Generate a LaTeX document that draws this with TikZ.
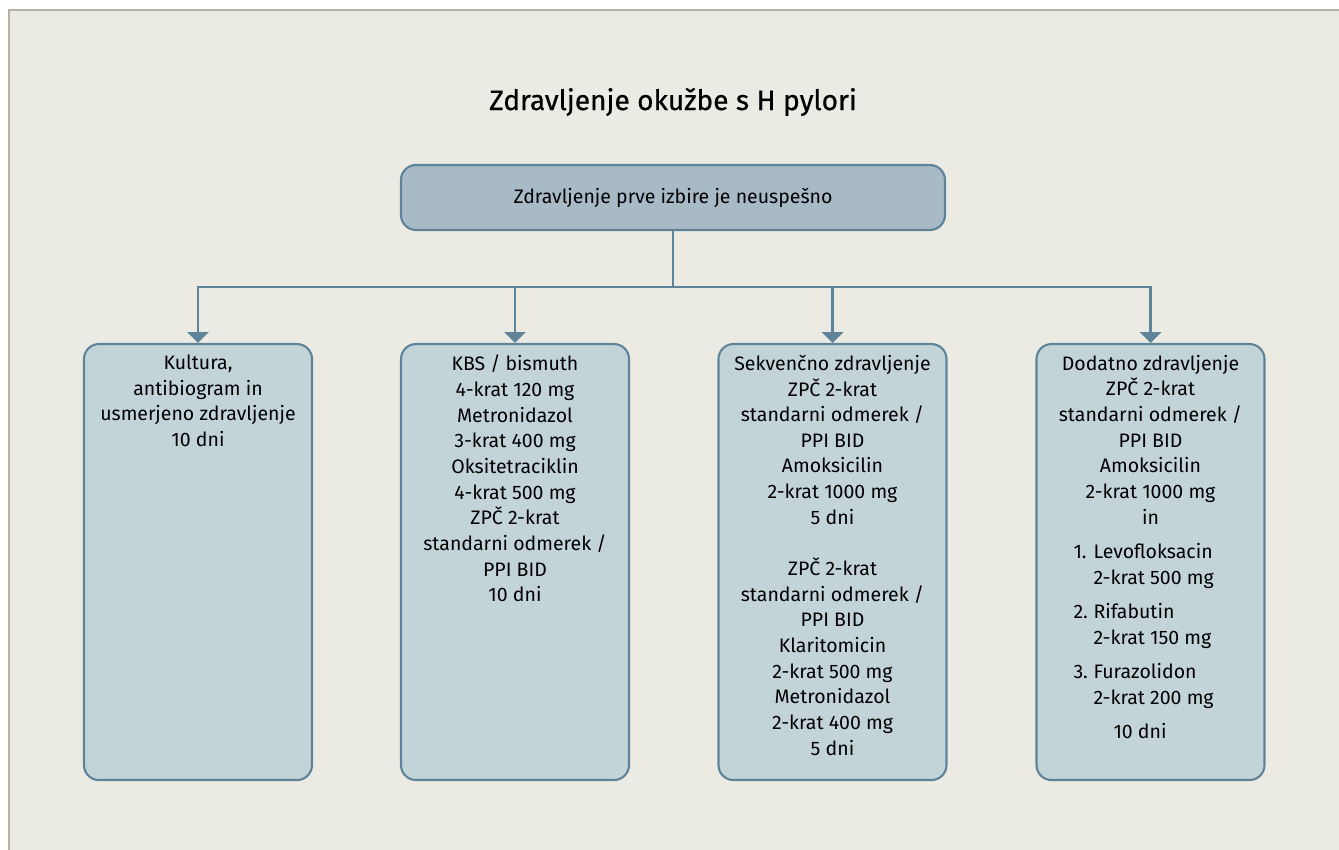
\documentclass[tikz,border=0pt]{standalone}
\usepackage{fontspec}
\setmainfont{Fira Sans}
\newfontfamily\titlefont{Fira Sans}[FakeBold=0.6]
\usetikzlibrary{arrows}
\usetikzlibrary{positioning}
\definecolor{panelbg}{HTML}{EBEBE3}
\definecolor{panelrule}{HTML}{B5B4A3}
\definecolor{boxline}{HTML}{5F8499}
\definecolor{headfill}{HTML}{A7BAC6}
\definecolor{optfill}{HTML}{C3D4D9}
\newcommand{\boxtext}[1]{\parbox[c][8.28cm][t]{4.36cm}{\centering #1}}
\newcommand{\numitem}[3]{\hspace*{6.4mm}\makebox[4mm][l]{#1}#2\\\hspace*{10.4mm}#3}

\begin{document}
\begin{tikzpicture}[
        head/.style={draw=boxline,rectangle,rounded corners=3mm,line width=1.2pt,fill=headfill,minimum width=10.88cm,minimum height=1.3cm,font=\fontsize{11.1}{14.6}\selectfont},
        opt/.style={draw=boxline,rectangle,rounded corners=3mm,line width=1.2pt,fill=optfill,inner xsep=1mm,inner ysep=2.2mm,anchor=north,font=\fontsize{11.1}{14.6}\selectfont},
        link/.style={draw=boxline,line width=1.2pt}
      ]
      \useasboundingbox (0,0) rectangle (26.78,17);
      % Background panel.
      \fill[white] (0,0) rectangle (26.78,17);
      \fill[panelbg] (0.18,0) rectangle (26.78,16.8);
      \draw[panelrule,line width=1.2pt] (0.18,0) -- (0.18,16.8) -- (26.78,16.8);
      \node (title) at (13.46,14.96) {\titlefont\fontsize{16}{20}\selectfont Zdravljenje okužbe s H pylori};
      \node[head] (fail) at (13.46,13.05) {Zdravljenje prve izbire je neuspešno};
      \node[opt] (culture) at (3.96,10.14) {\boxtext{Kultura,\\antibiogram in\\usmerjeno zdravljenje\\10 dni}};
      \node[opt] (bismuth) at (10.3,10.14) {\boxtext{KBS / bismuth\\4-krat 120 mg\\Metronidazol\\3-krat 400 mg\\Oksitetraciklin\\4-krat 500 mg\\ZPČ 2-krat\\standarni odmerek /\\PPI BID\\10 dni}};
      \node[opt] (sequent) at (16.65,10.14) {\boxtext{Sekvenčno zdravljenje\\ZPČ 2-krat\\standarni odmerek /\\PPI BID\\Amoksicilin\\2-krat 1000 mg\\5 dni\\[14.6pt]ZPČ 2-krat\\standarni odmerek /\\PPI BID\\Klaritomicin\\2-krat 500 mg\\Metronidazol\\2-krat 400 mg\\5 dni}};
      \node[opt] (extra) at (23.01,10.14) {\boxtext{Dodatno zdravljenje\\ZPČ 2-krat\\standarni odmerek /\\PPI BID\\Amoksicilin\\2-krat 1000 mg\\in\par\vspace{5pt}\raggedright
        \numitem{1.}{Levofloksacin}{2-krat 500 mg}\\[5pt]
        \numitem{2.}{Rifabutin}{2-krat 150 mg}\\[5pt]
        \numitem{3.}{Furazolidon}{2-krat 200 mg}\\[5pt]
        \hspace*{14.4mm}10 dni}};
      % Connections.
      \coordinate (split) at (13.46,11.26);
      \draw[link] (fail) -- (split);
      \draw[link,line cap=rect] (culture |- split) -- (extra |- split);
      \draw[link,-triangle 90] (culture |- split) -- (culture);
      \draw[link,-triangle 90] (bismuth |- split) -- (bismuth);
      \draw[link,-triangle 90] (sequent |- split) -- (sequent);
      \draw[link,-triangle 90] (extra |- split) -- (extra);
    \end{tikzpicture}
\end{document}
